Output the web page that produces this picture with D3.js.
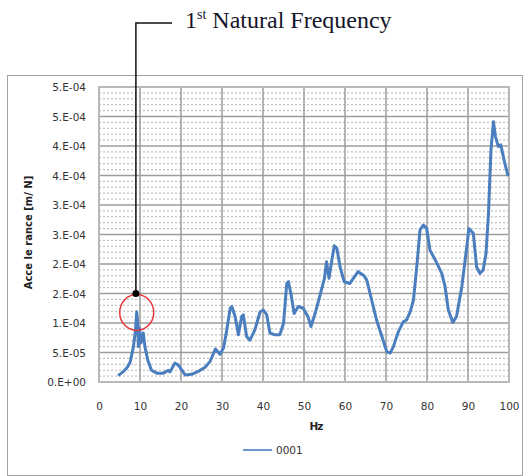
<!DOCTYPE html>
<html><head><meta charset="utf-8">
<script src="https://cdn.jsdelivr.net/npm/d3@7"></script>
<style>body{margin:0;background:#fff}</style>
</head><body><svg id="c" width="532" height="476"></svg>
<script>
const freqHz = [4.9,6.0,7.0,7.6,8.4,8.9,9.2,9.4,9.6,9.9,10.2,10.5,10.8,11.2,11.9,12.8,14.1,15.7,16.9,17.3,18.5,19.3,20.2,21.0,22.6,24.2,25.9,27.1,28.4,29.5,30.4,31.2,32.0,32.4,33.2,34.0,34.8,35.2,36.0,36.8,38.0,39.3,40.1,40.9,41.7,42.9,44.1,45.0,45.8,46.2,46.8,47.6,48.6,49.8,51.0,51.7,52.7,53.9,55.0,55.5,56.1,56.8,57.4,58.0,58.8,59.8,61.2,62.3,63.2,64.5,65.3,66.5,67.7,69.0,70.2,71.0,71.8,73.0,74.2,75.0,75.9,76.7,77.5,78.3,79.1,79.9,80.7,82.0,83.6,84.4,85.2,86.3,87.2,88.5,89.7,90.2,91.3,92.1,92.9,93.7,94.4,95.0,95.6,96.2,96.7,97.4,98.0,98.9,99.7];
const accelE5 = [1.2,1.8,2.6,3.4,6.0,8.8,11.9,10.5,6.0,9.1,6.6,7.2,8.3,6.0,3.7,2.0,1.5,1.5,2.0,1.7,3.2,2.9,2.0,1.2,1.3,1.8,2.5,3.5,5.6,4.7,5.8,9.0,12.5,12.8,11.1,8.0,11.1,11.4,7.7,7.1,8.8,11.9,12.2,11.4,8.3,8.0,8.0,9.9,16.7,17.0,15.0,11.6,12.8,12.5,11.0,9.4,11.6,14.7,17.6,20.4,17.6,20.7,23.1,22.7,19.5,17.0,16.7,17.8,18.7,18.1,17.3,13.9,10.5,7.7,5.1,4.9,6.0,8.5,10.2,10.5,11.9,13.9,19.5,25.8,26.6,26.1,22.4,20.7,18.4,16.2,12.2,10.1,11.1,16.2,22.9,26.0,25.2,19.5,18.4,19.0,21.8,28.6,39.3,44.1,41.6,39.9,40.2,37.3,35.1];
const xTickValues = [0,10,20,30,40,50,60,70,80,90,100];
const yTickValues = [0,5e-5,1e-4,1.5e-4,2e-4,2.5e-4,3e-4,3.5e-4,4e-4,4.5e-4,5e-4];
const yTickLabels = ["0.E+00","5.E-05","1.E-04","2.E-04","2.E-04","3.E-04","3.E-04","4.E-04","4.E-04","5.E-04","5.E-04"];
const seriesName = "0001";
const xTitle = "Hz";
const yTitle = "Acce le rance [m/ N]";
const annotation = {main: "1", sup: "st", rest: " Natural Frequency", dotHz: 9.0, dotValue: 1.5e-4, peakHz: 9.2, peakValue: 1.18e-4};

const accel = accelE5.map(v => v * 1e-5);
const data = freqHz.map((f, i) => ({f, a: accel[i]}));

const svg = d3.select("#c");
const L = 99, R = 509, T = 87, B = 382;
const x = d3.scaleLinear().domain([0, 100]).range([L, R]);
const y = d3.scaleLinear().domain([0, 5e-4]).range([B, T]);

// outer frame
svg.append("rect").attr("x", 7.5).attr("y", 75.5).attr("width", 515).attr("height", 400)
  .attr("fill", "#fff").attr("stroke", "#a0a0a0").attr("stroke-width", 1);

// minor horizontal gridlines
const minor = d3.range(0, 51).filter(k => k % 5 !== 0).map(k => k * 1e-5);
svg.append("g").selectAll("line").data(minor).join("line")
  .attr("x1", L).attr("x2", R).attr("y1", d => y(d)).attr("y2", d => y(d))
  .attr("stroke", "#b4b4b4").attr("stroke-width", 1).attr("stroke-dasharray", "2,2");

// major gridlines
svg.append("g").selectAll("line").data(yTickValues).join("line")
  .attr("x1", L).attr("x2", R).attr("y1", d => y(d)).attr("y2", d => y(d))
  .attr("stroke", "#9c9c9c").attr("stroke-width", 1.5);
svg.append("g").selectAll("line").data(xTickValues).join("line")
  .attr("y1", T).attr("y2", B).attr("x1", d => x(d)).attr("x2", d => x(d))
  .attr("stroke", "#9c9c9c").attr("stroke-width", 1.5);
svg.append("rect").attr("x", L).attr("y", T).attr("width", R - L).attr("height", B - T)
  .attr("fill", "none").attr("stroke", "#b8b8b8").attr("stroke-width", 2);

// axes labels via d3 axes
const xAxis = d3.axisBottom(x).tickValues(xTickValues).tickSize(0).tickPadding(0);
const gx = svg.append("g").attr("transform", `translate(0,${B + 25})`).call(xAxis);
gx.select(".domain").remove();
gx.selectAll("text").attr("font-family", "DejaVu Sans, Verdana, sans-serif").attr("font-size", 10.5).attr("fill", "#333").attr("dy", "0.32em").attr("y", 0);

const yAxis = d3.axisLeft(y).tickValues(yTickValues).tickSize(0).tickPadding(0)
  .tickFormat((d, i) => yTickLabels[i]);
const gy = svg.append("g").attr("transform", `translate(${L - 13},0)`).call(yAxis);
gy.select(".domain").remove();
gy.selectAll("text").attr("font-family", "DejaVu Sans, Verdana, sans-serif").attr("font-size", 10.5).attr("fill", "#333").attr("x", 0).attr("dy", "0.35em");

// axis titles
svg.append("text").attr("x", (L + R) / 2 + 12).attr("y", B + 48).attr("text-anchor", "middle")
  .attr("font-family", "DejaVu Sans, Verdana, sans-serif").attr("font-size", 10.5).attr("font-weight", "bold")
  .attr("fill", "#222").attr("letter-spacing", "-1").text(xTitle);
svg.append("text").attr("transform", `translate(32,${(T + B) / 2 - 2}) rotate(-90)`).attr("text-anchor", "middle")
  .attr("font-family", "DejaVu Sans, Verdana, sans-serif").attr("font-size", 10).attr("font-weight", "bold")
  .attr("fill", "#222").text(yTitle);

// series line
svg.append("path").datum(data)
  .attr("d", d3.line().x(d => x(d.f)).y(d => y(d.a)))
  .attr("fill", "none").attr("stroke", "#4a7ebf").attr("stroke-width", 3)
  .attr("stroke-linejoin", "round").attr("stroke-linecap", "round");

// legend
svg.append("line").attr("x1", 243).attr("x2", 272).attr("y1", 450).attr("y2", 450)
  .attr("stroke", "#6d95cc").attr("stroke-width", 2);
svg.append("text").attr("x", 276).attr("y", 450).attr("dy", "0.35em")
  .attr("font-family", "DejaVu Sans, Verdana, sans-serif").attr("font-size", 10.5).attr("fill", "#333").text(seriesName);

// annotation
const ax = x(annotation.dotHz), ay = y(annotation.dotValue);
svg.append("ellipse").attr("cx", x(annotation.peakHz)).attr("cy", y(annotation.peakValue))
  .attr("rx", 17).attr("ry", 18).attr("fill", "none").attr("stroke", "#e8393d").attr("stroke-width", 1.5);
svg.append("polyline").attr("points", `${172},23 ${ax},23 ${ax},${ay}`)
  .attr("fill", "none").attr("stroke", "#111").attr("stroke-width", 1.5);
svg.append("circle").attr("cx", ax).attr("cy", ay).attr("r", 3.5).attr("fill", "#000");
const t = svg.append("text").attr("x", 185).attr("y", 28)
  .attr("font-family", "Liberation Serif, Times New Roman, serif").attr("font-size", 24).attr("fill", "#14142a");
t.append("tspan").text(annotation.main);
t.append("tspan").attr("font-size", 14).attr("dy", -9).text(annotation.sup);
t.append("tspan").attr("dy", 9).text(annotation.rest);
</script></body></html>
